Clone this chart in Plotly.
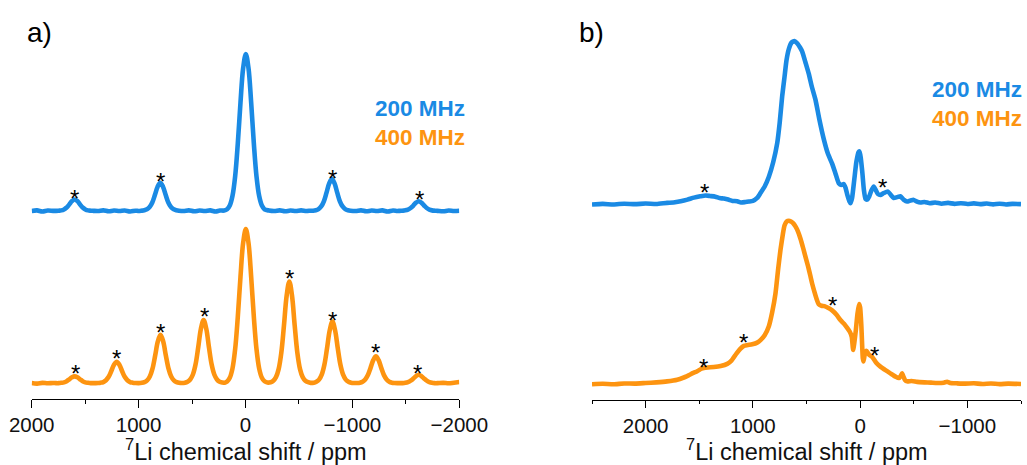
import plotly.graph_objects as go

W, H = 1027, 465
BLUE = "#1a8ae4"
ORANGE = "#fd9410"
FONT = "Liberation Sans, Arial, sans-serif"

# ---------------- Panel a data (ppm, normalised intensity) ----------------
a200_x = [2000, 1950, 1900, 1850, 1800,
          1773, 1748, 1723, 1698, 1673, 1648, 1623, 1598, 1573, 1548, 1523, 1498, 1473, 1448, 1423,
          1380, 1330, 1280, 1230, 1180, 1130, 1080, 1030, 1000,
          972, 947, 922, 897, 872, 847, 822, 797, 772, 747, 722, 697, 672, 647, 622,
          580, 530, 480, 430, 380, 330, 280, 240, 200,
          172, 147, 122, 97, 72, 47, 22, -3, -28, -53, -78, -103, -128, -153, -178,
          -220, -270, -320, -370, -420, -470, -520, -570, -610,
          -633, -658, -683, -708, -733, -758, -783, -808, -833, -858, -883, -908, -933, -958, -983,
          -1030, -1080, -1130, -1180, -1230, -1280, -1330, -1380, -1420,
          -1445, -1470, -1495, -1520, -1545, -1570, -1595, -1620, -1645, -1670, -1695, -1720, -1745, -1770, -1795,
          -1850, -1900, -1950, -2000]
a200_y = [0.000, 0.004, -0.003, 0.003, 0.001,
          0.001, 0.002, 0.004, 0.010, 0.022, 0.042, 0.063, 0.073, 0.063, 0.042, 0.022, 0.010, 0.004, 0.002, 0.001,
          0.000, 0.004, -0.002, 0.003, 0.000, 0.003, -0.003, 0.002, 0.000,
          0.002, 0.005, 0.011, 0.025, 0.054, 0.103, 0.155, 0.180, 0.155, 0.103, 0.054, 0.025, 0.011, 0.005, 0.002,
          0.000, 0.004, -0.002, 0.003, 0.000, 0.004, -0.003, 0.003, 0.003,
          0.011, 0.035, 0.095, 0.220, 0.430, 0.690, 0.910, 1.000, 0.910, 0.690, 0.430, 0.220, 0.095, 0.035, 0.011,
          0.003, 0.000, 0.004, -0.002, 0.003, 0.000, 0.004, 0.000, 0.002,
          0.002, 0.005, 0.012, 0.029, 0.062, 0.117, 0.176, 0.205, 0.176, 0.117, 0.062, 0.029, 0.012, 0.005, 0.002,
          0.000, 0.004, -0.002, 0.003, 0.000, 0.004, -0.003, 0.003, 0.000,
          0.001, 0.002, 0.004, 0.009, 0.019, 0.035, 0.053, 0.062, 0.053, 0.035, 0.019, 0.009, 0.004, 0.002, 0.001,
          -0.002, 0.003, 0.000, 0.002]

a400_x = [2000, 1950, 1900, 1850, 1800,
          1773, 1748, 1723, 1698, 1673, 1648, 1623, 1598, 1573, 1548, 1523, 1498, 1473, 1448, 1423, 1400,
          1380, 1355, 1330, 1305, 1280, 1255, 1230, 1205, 1180, 1155, 1130, 1105, 1080, 1055, 1030, 1000,
          970, 945, 920, 895, 870, 845, 820, 795, 770, 745, 720, 695, 670, 645, 620, 595,
          567, 542, 517, 492, 467, 442, 417, 392, 367, 342, 317, 292, 267, 242, 217, 195,
          172, 147, 122, 97, 72, 47, 22, -3, -28, -53, -78, -103, -128, -153, -178, -205,
          -235, -260, -285, -310, -335, -360, -385, -410, -435, -460, -485, -510, -535, -560, -585, -610,
          -638, -663, -688, -713, -738, -763, -788, -813, -838, -863, -888, -913, -938, -963, -988, -1015,
          -1045, -1070, -1095, -1120, -1145, -1170, -1195, -1220, -1245, -1270, -1295, -1320, -1345, -1370, -1395, -1420,
          -1445, -1470, -1495, -1520, -1545, -1570, -1595, -1620, -1645, -1670, -1695, -1720, -1745, -1770, -1795,
          -1850, -1900, -1950, -2000]
a400_y = [0.002, -0.002, 0.003, 0.000, 0.002,
          0.001, 0.001, 0.003, 0.006, 0.014, 0.026, 0.039, 0.045, 0.039, 0.026, 0.014, 0.006, 0.003, 0.001, 0.001, 0.001,
          0.002, 0.004, 0.008, 0.020, 0.042, 0.080, 0.120, 0.140, 0.120, 0.080, 0.042, 0.020, 0.008, 0.004, 0.002, 0.001,
          0.003, 0.008, 0.019, 0.044, 0.095, 0.180, 0.271, 0.315, 0.271, 0.180, 0.095, 0.044, 0.019, 0.008, 0.003, 0.002,
          0.004, 0.010, 0.025, 0.057, 0.123, 0.234, 0.353, 0.410, 0.353, 0.234, 0.123, 0.057, 0.025, 0.010, 0.005, 0.004,
          0.012, 0.036, 0.095, 0.220, 0.430, 0.690, 0.910, 1.000, 0.910, 0.690, 0.430, 0.220, 0.095, 0.036, 0.013, 0.005,
          0.007, 0.017, 0.040, 0.092, 0.198, 0.376, 0.568, 0.660, 0.568, 0.376, 0.198, 0.092, 0.040, 0.017, 0.007, 0.003,
          0.004, 0.010, 0.024, 0.056, 0.120, 0.228, 0.344, 0.400, 0.344, 0.228, 0.120, 0.056, 0.024, 0.010, 0.004, 0.002,
          0.002, 0.004, 0.010, 0.025, 0.053, 0.100, 0.150, 0.175, 0.150, 0.100, 0.053, 0.025, 0.010, 0.004, 0.002, 0.001,
          0.001, 0.001, 0.003, 0.008, 0.017, 0.031, 0.047, 0.055, 0.047, 0.031, 0.017, 0.008, 0.003, 0.001, 0.001,
          0.003, 0.000, 0.004, 0.008]

# ---------------- Panel b data ----------------
b200_x = [2500, 2400, 2300, 2200, 2100, 2000, 1900, 1800, 1740, 1674, 1610, 1550, 1490, 1441, 1400, 1350, 1310, 1271,
          1230, 1190, 1146, 1110, 1070, 1038, 1000, 960, 929, 890, 851, 810, 773, 750, 727, 705, 687, 665, 640, 612,
          585, 560, 540, 510, 479, 450, 416, 380, 339, 300, 261, 230, 199, 175, 153, 135, 120, 100, 90, 75, 55, 35,
          15, 6, -5, -20, -35, -50, -65, -85, -105, -127, -145, -165, -189, -220, -257, -285, -313, -345, -375, -405,
          -438, -470, -500, -530, -562, -600, -650, -700, -760, -820, -880, -940, -1000, -1060, -1120, -1180, -1240,
          -1300, -1360, -1420, -1500]
b200_y = [0.000, 0.004, 0.000, 0.005, 0.002, 0.006, 0.003, 0.010, 0.012, 0.020, 0.030, 0.042, 0.050, 0.055, 0.052, 0.048, 0.040, 0.036,
          0.030, 0.022, 0.020, 0.012, 0.015, 0.018, 0.022, 0.040, 0.070, 0.110, 0.170, 0.260, 0.375, 0.500, 0.660, 0.780, 0.880, 0.950, 0.990, 1.000,
          0.985, 0.960, 0.935, 0.870, 0.800, 0.720, 0.640, 0.520, 0.400, 0.310, 0.250, 0.190, 0.130, 0.120, 0.125, 0.100, 0.060, 0.020, 0.008, 0.040, 0.150, 0.260,
          0.320, 0.325, 0.290, 0.200, 0.090, 0.035, 0.030, 0.050, 0.085, 0.110, 0.090, 0.065, 0.058, 0.070, 0.080, 0.060, 0.040, 0.045, 0.050, 0.030,
          0.018, 0.025, 0.028, 0.018, 0.012, 0.015, 0.008, 0.012, 0.005, 0.010, 0.004, 0.008, 0.003, 0.007, 0.002, 0.006, 0.001,
          0.005, 0.000, 0.004, 0.002]

b400_x = [2500, 2400, 2300, 2200, 2100, 2000, 1900, 1800, 1705, 1650, 1600, 1560, 1519, 1480, 1457, 1420, 1364, 1300,
          1239, 1200, 1178, 1150, 1120, 1084, 1050, 1006, 960, 929, 890, 851, 820, 789, 765, 743, 720, 705, 685, 665,
          645, 625, 603, 580, 556, 530, 510, 485, 463, 445, 426, 405, 386, 360, 333, 300, 261, 220, 184, 150, 121, 95,
          78, 65, 55, 40, 25, 10, 0, -12, -25, -32, -45, -59, -85, -112, -150, -189, -240, -282, -330, -360, -378,
          -391, -405, -420, -438, -480, -531, -600, -660, -720, -780, -810, -840, -900, -980, -1060, -1140, -1220,
          -1300, -1380, -1500]
b400_y = [0.000, 0.003, 0.000, 0.005, 0.004, 0.008, 0.012, 0.018, 0.028, 0.040, 0.055, 0.068, 0.080, 0.095, 0.100, 0.103, 0.106, 0.112,
          0.125, 0.145, 0.165, 0.190, 0.215, 0.235, 0.240, 0.245, 0.255, 0.270, 0.300, 0.355, 0.440, 0.556, 0.700, 0.820, 0.920, 0.970, 0.995, 1.000,
          0.995, 0.985, 0.965, 0.935, 0.890, 0.830, 0.780, 0.720, 0.660, 0.610, 0.565, 0.520, 0.490, 0.480, 0.478, 0.468, 0.452, 0.425, 0.393, 0.370, 0.345, 0.320,
          0.290, 0.210, 0.250, 0.330, 0.430, 0.490, 0.470, 0.350, 0.160, 0.140, 0.190, 0.205, 0.180, 0.168, 0.132, 0.108, 0.085, 0.067, 0.047, 0.038, 0.050,
          0.068, 0.045, 0.025, 0.018, 0.020, 0.015, 0.012, 0.010, 0.008, 0.010, 0.016, 0.008, 0.006, 0.004, 0.006, 0.002, 0.005,
          0.001, 0.004, 0.002]

# asterisk marks (ppm, intensity) per spectrum
a200_stars = [(1595, 0.119), (793, 0.225), (-812, 0.246), (-1623, 0.113)]
a400_stars = [(1586, 0.104), (1205, 0.198), (793, 0.371), (388, 0.470), (-416, 0.717),
              (-812, 0.447), (-1212, 0.237), (-1611, 0.104)]
b200_stars = [(1448, 0.113), (-205, 0.139)]
b400_stars = [(1463, 0.138), (1084, 0.291), (261, 0.520), (-133, 0.210)]

a_ticks = [2000, 1000, 0, -1000, -2000]
a_minor = [1500, 500, -500, -1500]
b_ticks = [2000, 1000, 0, -1000]
b_minor = [2500, 1500, 500, -500, -1500]


def lab(v):
    return str(v).replace("-", "\u2212")


# ---------------- layout geometry (pixels) ----------------
def fy(px):
    return 1 - px / H


def fx(px):
    return px / W


def yrange(bot_px, top_px, base_px, peak_px):
    s = base_px - peak_px
    return [-(bot_px - base_px) / s, (base_px - top_px) / s]


A_X = [fx(31.7), fx(459.3)]
B_X = [fx(592), fx(1021)]
TOP_BOT, TOP_TOP = 235, 10
BOT_TOP = 200
A_AX, B_AX = 399.0, 399.5

fig = go.Figure()
line_a = dict(width=4.6, shape="spline", smoothing=1.0)
line_b = dict(width=4.6, shape="spline", smoothing=0.5)
fig.add_trace(go.Scatter(x=a400_x, y=a400_y, mode="lines", line=dict(color=ORANGE, **line_a), xaxis="x", yaxis="y"))
fig.add_trace(go.Scatter(x=a200_x, y=a200_y, mode="lines", line=dict(color=BLUE, **line_a), xaxis="x2", yaxis="y2"))
fig.add_trace(go.Scatter(x=b400_x, y=b400_y, mode="lines", line=dict(color=ORANGE, **line_b), xaxis="x3", yaxis="y3"))
fig.add_trace(go.Scatter(x=b200_x, y=b200_y, mode="lines", line=dict(color=BLUE, **line_b), xaxis="x4", yaxis="y4"))

ax_common = dict(showgrid=False, zeroline=False, showline=True, linecolor="black", linewidth=1.3,
                 ticks="outside", ticklen=7.5, tickwidth=1.3, tickcolor="black",
                 tickfont=dict(family=FONT, size=20.5, color="#111"), tickmode="array",
                 fixedrange=True, automargin=False)
hidden_x = dict(visible=False, showgrid=False, zeroline=False, fixedrange=True, automargin=False)
hidden_y = dict(visible=False, showgrid=False, zeroline=False, fixedrange=True, automargin=False)

fig.update_layout(
    width=W, height=H, margin=dict(l=0, r=0, t=0, b=0, pad=0), autosize=False,
    paper_bgcolor="white", plot_bgcolor="rgba(0,0,0,0)", showlegend=False,
    xaxis=dict(domain=A_X, range=[2000, -2000], anchor="y", tickvals=a_ticks, ticktext=[lab(v) for v in a_ticks],
               minor=dict(tickvals=a_minor, ticks="outside", ticklen=3.8, tickwidth=1.3, tickcolor="black"), **ax_common),
    yaxis=dict(domain=[fy(A_AX), fy(BOT_TOP)], range=yrange(A_AX, BOT_TOP, 383.3, 229.0), anchor="x", **hidden_y),
    xaxis2=dict(domain=A_X, range=[2000, -2000], anchor="y2", **hidden_x),
    yaxis2=dict(domain=[fy(TOP_BOT), fy(TOP_TOP)], range=yrange(TOP_BOT, TOP_TOP, 211.0, 54.0), anchor="x2", **hidden_y),
    xaxis3=dict(domain=B_X, range=[2500, -1500], anchor="y3", tickvals=b_ticks, ticktext=[lab(v) for v in b_ticks],
                minor=dict(tickvals=b_minor, ticks="outside", ticklen=3.8, tickwidth=1.3, tickcolor="black"), **ax_common),
    yaxis3=dict(domain=[fy(B_AX), fy(BOT_TOP)], range=yrange(B_AX, BOT_TOP, 384.3, 220.7), anchor="x3", **hidden_y),
    xaxis4=dict(domain=B_X, range=[2500, -1500], anchor="y4", **hidden_x),
    yaxis4=dict(domain=[fy(TOP_BOT), fy(TOP_TOP)], range=yrange(TOP_BOT, TOP_TOP, 204.5, 41.0), anchor="x4", **hidden_y),
)

ann = []
for stars, xr, yr in [(a200_stars, "x2", "y2"), (a400_stars, "x", "y"), (b200_stars, "x4", "y4"), (b400_stars, "x3", "y3")]:
    for sx, sy in stars:
        ann.append(dict(x=sx, y=sy, xref=xr, yref=yr, text="*", showarrow=False, xanchor="center", yanchor="middle",
                        yshift=-6, font=dict(family=FONT, size=24, color="black")))

texts = [
    ("a)", fx(39), fy(33), "center", 28, "black", False),
    ("b)", fx(591.5), fy(33), "center", 28, "black", False),
    ("200 MHz", fx(467), fy(108), "right", 22.5, BLUE, True),
    ("400 MHz", fx(467), fy(137), "right", 22.5, ORANGE, True),
    ("200 MHz", fx(1024), fy(89), "right", 22.5, BLUE, True),
    ("400 MHz", fx(1024), fy(118), "right", 22.5, ORANGE, True),
    ("<sup>7</sup>Li chemical shift / ppm", (A_X[0] + A_X[1]) / 2, fy(450), "center", 23.5, "#111", False),
    ("<sup>7</sup>Li chemical shift / ppm", (B_X[0] + B_X[1]) / 2, fy(450), "center", 23.5, "#111", False),
]
for t, x, y, xa, size, col, bold in texts:
    ann.append(dict(x=x, y=y, xref="paper", yref="paper", text=f"<b>{t}</b>" if bold else t, showarrow=False,
                    xanchor=xa, yanchor="middle", font=dict(family=FONT, size=size, color=col)))

fig.update_layout(annotations=ann)
fig.write_html("out.html", config={"displayModeBar": False},
               post_script="document.body.style.margin='0px';document.body.style.overflow='hidden';")
